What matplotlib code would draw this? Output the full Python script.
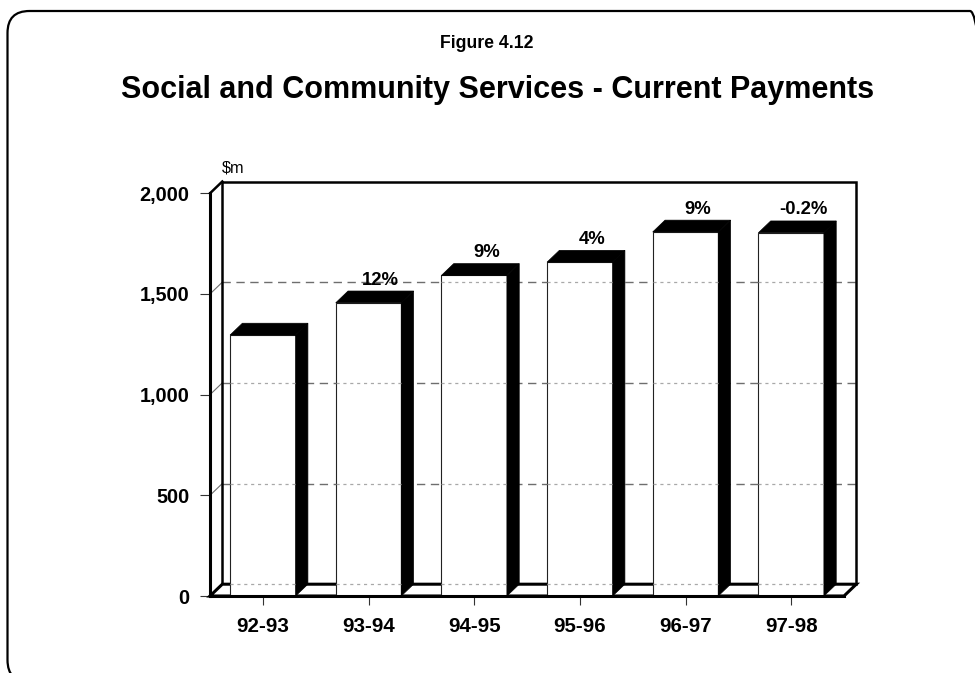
import matplotlib
matplotlib.use('Agg')
import matplotlib.pyplot as plt
from matplotlib.patches import Polygon, Rectangle, FancyBboxPatch
from matplotlib.transforms import IdentityTransform

plt.rcParams['font.family'] = ['Liberation Sans', 'DejaVu Sans']

# Data
years = ['92-93', '93-94', '94-95', '95-96', '96-97', '97-98']
payments = [1296, 1456, 1592, 1658, 1808, 1804]          # $m
growth_labels = ['', '12%', '9%', '4%', '9%', '-0.2%']
y_ticks = [0, 500, 1000, 1500, 2000]
y_tick_labels = ['0', '500', '1,000', '1,500', '2,000']

W, H = 975, 673
fig = plt.figure(figsize=(W / 100, H / 100), dpi=100)
ax = fig.add_axes([210 / W, (H - 596) / H, 634 / W, (596 - 193.3) / H])
ax.set_xlim(-0.5, 5.5)
ax.set_ylim(0, 2000)
ax.patch.set_visible(False)

# depth of the 3-D box, converted from pixels to data units
p0 = ax.transData.transform((0, 0))
p1 = ax.transData.transform((1, 1))
dx = 12.3 / (p1[0] - p0[0])
dy = 11.8 / (p1[1] - p0[1])

xl, xr = -0.5, 5.5
ytop = y_ticks[-1]
bar_w = 0.62

# back-wall and side-wall gridlines
for g in y_ticks[1:-1]:
    ax.plot([xl + dx, xr + dx], [g + dy, g + dy], color='#6e6e6e', lw=1.0,
            ls=(0, (6, 4)), clip_on=False, zorder=1)
    ax.plot([xl, xl + dx], [g, g + dy], color='#6e6e6e', lw=0.8,
            clip_on=False, zorder=1)

# back wall outline and left wall top edge
ax.plot([xl + dx, xl + dx, xr + dx, xr + dx], [dy, ytop + dy, ytop + dy, dy],
        color='black', lw=1.8, clip_on=False, zorder=2, solid_joinstyle='miter')
ax.plot([xl, xl + dx], [ytop, ytop + dy], color='black', lw=1.8,
        clip_on=False, zorder=2)

# floor
ax.add_patch(Polygon([(xl, 0), (xr, 0), (xr + dx, dy), (xl + dx, dy)],
                     closed=True, fc='white', ec='black', lw=2.2,
                     joinstyle='miter', clip_on=False, zorder=2))

# bars
for i, v in enumerate(payments):
    x0, x1 = i - bar_w / 2, i + bar_w / 2
    ax.add_patch(Rectangle((x0, 0), bar_w, v, fc='white', ec='#222222',
                           lw=0.8, zorder=3, clip_on=False))
    ax.add_patch(Polygon([(x1, 0), (x1, v), (x1 + dx, v + dy), (x1 + dx, dy)],
                         closed=True, fc='black', ec='black', lw=0.5,
                         zorder=3, clip_on=False))
    ax.add_patch(Polygon([(x0, v), (x1, v), (x1 + dx, v + dy), (x0 + dx, v + dy)],
                         closed=True, fc='black', ec='black', lw=0.5,
                         zorder=3, clip_on=False))
    # gridlines showing faintly through the bar faces
    for g in y_ticks[:-1]:
        if g + dy < v:
            ax.plot([x0, x1], [g + dy, g + dy], color='#a8a8a8', lw=0.9,
                    ls=(0, (2.5, 3)), zorder=4, clip_on=False)
    if growth_labels[i]:
        ax.annotate(growth_labels[i], (i + dx, v + dy), xytext=(0, 6.5),
                    textcoords='offset pixels', ha='center', va='baseline',
                    fontsize=13.3, fontweight='bold', annotation_clip=False)

# axes (front edges)
for side in ['top', 'right']:
    ax.spines[side].set_visible(False)
for side in ['left', 'bottom']:
    ax.spines[side].set_linewidth(2.2)
    ax.spines[side].set_zorder(5)

ax.set_yticks(y_ticks, y_tick_labels, fontweight='bold', fontsize=14.3)
ax.set_xticks(range(len(years)), years, fontweight='bold', fontsize=14.8)
ax.tick_params(axis='y', length=7.2, width=0.8, color='#333333', pad=7.5)
ax.tick_params(axis='x', length=6.5, width=0.8, color='#333333', pad=8.5)

ax.annotate('\\$m', (xl + dx, ytop + dy), xytext=(0, 14),
            textcoords='offset pixels', ha='left', va='center',
            fontsize=11.7, annotation_clip=False)

# titles
fig.text(486.5 / W, 1 - 44 / H, 'Figure 4.12', ha='center', va='center',
         fontsize=12.7, fontweight='bold')
fig.text(498 / W, 1 - 90 / H, 'Social and Community Services - Current Payments',
         ha='center', va='center', fontsize=22, fontweight='bold')

# rounded frame
frame = FancyBboxPatch((7.5, H - 682), 984.5, 671,
                       boxstyle='round,pad=0,rounding_size=22',
                       transform=IdentityTransform(), fc='none', ec='black',
                       lw=1.6, clip_on=False)
fig.add_artist(frame)

fig.savefig('out.png', dpi=100)
